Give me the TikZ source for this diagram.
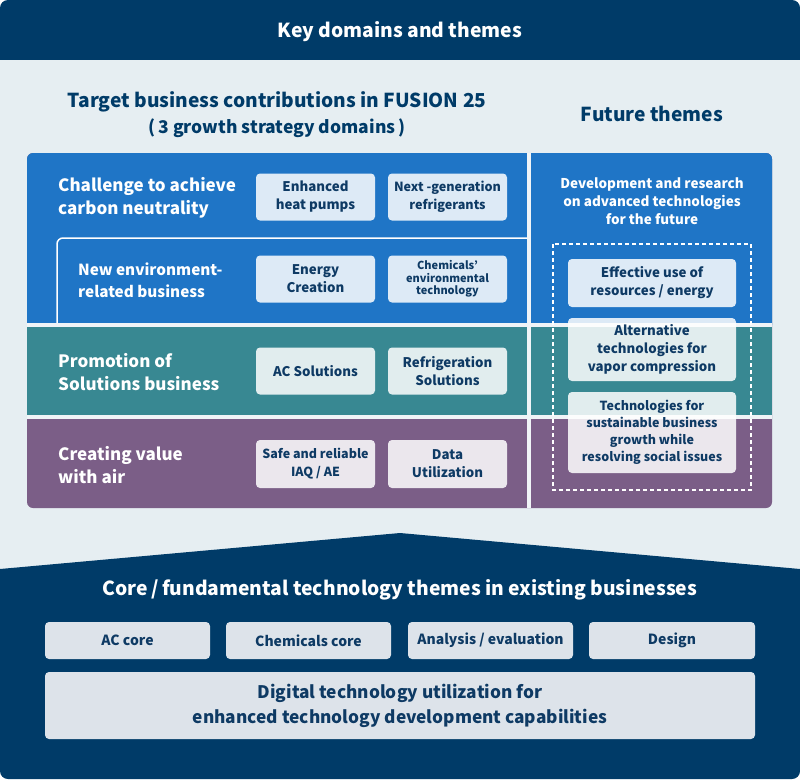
\documentclass[tikz,border=0pt]{standalone}
\usepackage{fontspec}
\setmainfont{Noto Sans CJK JP}
\definecolor{navy}{HTML}{003B68}
\definecolor{tnavy}{HTML}{0E3A64}
\definecolor{bgc}{HTML}{E6EEF2}
\definecolor{blueC}{HTML}{1F75C6}
\definecolor{tealC}{HTML}{388892}
\definecolor{purpC}{HTML}{7B5E87}
\definecolor{sepC}{HTML}{F0F4F7}
\definecolor{coreC}{HTML}{DDE3EA}
\newcommand{\fs}[2]{\fontsize{#1}{#2}\selectfont\bfseries}
\tikzset{
  x=1pt,y=-1pt,
  sbox/.style={rounded corners=4pt, fill=white, fill opacity=0.85, text opacity=1, text=tnavy, align=center, inner sep=0pt, font=\fs{13.3}{18}},
  lbl/.style={text=white, align=left, anchor=west, inner sep=0pt, font=\fs{17}{22.5}},
  ttl/.style={text=navy, align=center, inner sep=0pt, font=\fs{19.2}{26}},
  cbox/.style={rounded corners=4pt, fill=coreC, text=tnavy, align=center, inner sep=0pt, font=\fs{14}{18}},
}
\begin{document}
\begin{tikzpicture}
\useasboundingbox (0,0) rectangle (800,779);
\fill[white] (0,0) rectangle (800,779);
\begin{scope}
\clip[rounded corners=8pt] (0,0) rectangle (800,779);
\fill[bgc] (0,0) rectangle (800,779);
\fill[navy] (0,0) rectangle (800,60);
\node[text=white, font=\fs{19.3}{24}] (hdr) at (400,32) {Key domains and themes};
\node[ttl] (tt1) at (277,102) {Target business contributions in FUSION 25};
\node[ttl, font=\fs{17.5}{22}] (tt2) at (277,128) {(\,3 growth strategy domains\,)};
\node[ttl] (ft) at (652,114) {Future themes};
% panel
\fill[purpC, rounded corners=6pt] (27,153) rectangle (772,508);
\fill[blueC] (27,325) {[rounded corners=6pt] -- (27,153) -- (772,153)} -- (772,325) -- cycle;
\fill[tealC] (27,325) rectangle (772,417);
\draw[sepC, line width=4pt] (529,153) -- (529,508);
\draw[sepC, line width=4pt] (27,325) -- (772,325);
\draw[sepC, line width=4pt] (27,417) -- (772,417);
\draw[white, line width=1.5pt, rounded corners=6pt] (57,323) -- (57,238) -- (527,238);
% left labels
\node[lbl] (l1) at (58,198) {Challenge to achieve\\carbon neutrality};
\node[lbl, font=\fs{15.3}{22}] (l2) at (78,280) {New environment-\\related business};
\node[lbl] (l3) at (58,372) {Promotion of\\Solutions business};
\node[lbl] (l4) at (58,465) {Creating value\\with air};
% left boxes
\node[sbox, minimum width=119pt, minimum height=47pt] (b11) at (315.5,197) {Enhanced\\heat pumps};
\node[sbox, minimum width=119pt, minimum height=47pt, font=\fs{12.6}{18}] (b12) at (447.5,197) {Next -generation\\refrigerants};
\node[sbox, minimum width=119pt, minimum height=47pt] (b21) at (315.5,279) {Energy\\Creation};
\node[sbox, minimum width=119pt, minimum height=47pt, font=\fs{11}{12.5}] (b22) at (447.5,279) {Chemicals’\\environmental\\technology};
\node[sbox, minimum width=119pt, minimum height=47pt] (b31) at (315.5,371) {AC Solutions};
\node[sbox, minimum width=119pt, minimum height=47pt] (b32) at (447.5,371) {Refrigeration\\Solutions};
\node[sbox, minimum width=119pt, minimum height=48pt, font=\fs{12.5}{18}] (b41) at (315.5,464) {Safe and reliable\\IAQ / AE};
\node[sbox, minimum width=119pt, minimum height=48pt] (b42) at (447.5,464) {Data\\Utilization};
% right column
\node[text=white, align=center, inner sep=0pt, font=\fs{13.5}{18}] (dev) at (652,201) {Development and research\\on advanced technologies\\for the future};
\draw[white, line width=1.5pt, dash pattern=on 4pt off 3pt] (553,244) rectangle (751,490);
\node[sbox, minimum width=168pt, minimum height=48pt] (r1) at (652,283) {Effective use of\\resources / energy};
\node[sbox, minimum width=168pt, minimum height=63pt] (r2) at (652,349.5) {Alternative\\technologies for\\vapor compression};
\node[sbox, minimum width=168pt, minimum height=81pt, font=\fs{12.5}{17}] (r3) at (652,432.5) {Technologies for\\sustainable business\\growth while\\resolving social issues};
% bottom
\fill[navy] (0,569) -- (400,533) -- (800,569) -- (800,779) -- (0,779) -- cycle;
\node[text=white, inner sep=0pt, font=\fs{19.3}{24}] (core) at (400,590) {Core\,/\,fundamental technology themes in existing businesses};
\node[cbox, minimum width=165pt, minimum height=37pt] (c1) at (127.5,640.5) {AC core};
\node[cbox, minimum width=165pt, minimum height=37pt] (c2) at (308.5,640.5) {Chemicals core};
\node[cbox, minimum width=165pt, minimum height=37pt] (c3) at (490.5,640.5) {Analysis / evaluation};
\node[cbox, minimum width=166pt, minimum height=37pt] (c4) at (672,640.5) {Design};
\node[cbox, minimum width=710pt, minimum height=67pt, font=\fs{17.3}{25}] (dig) at (400,705.5) {Digital technology utilization for\\enhanced technology development capabilities};
\end{scope}
\end{tikzpicture}
\end{document}
